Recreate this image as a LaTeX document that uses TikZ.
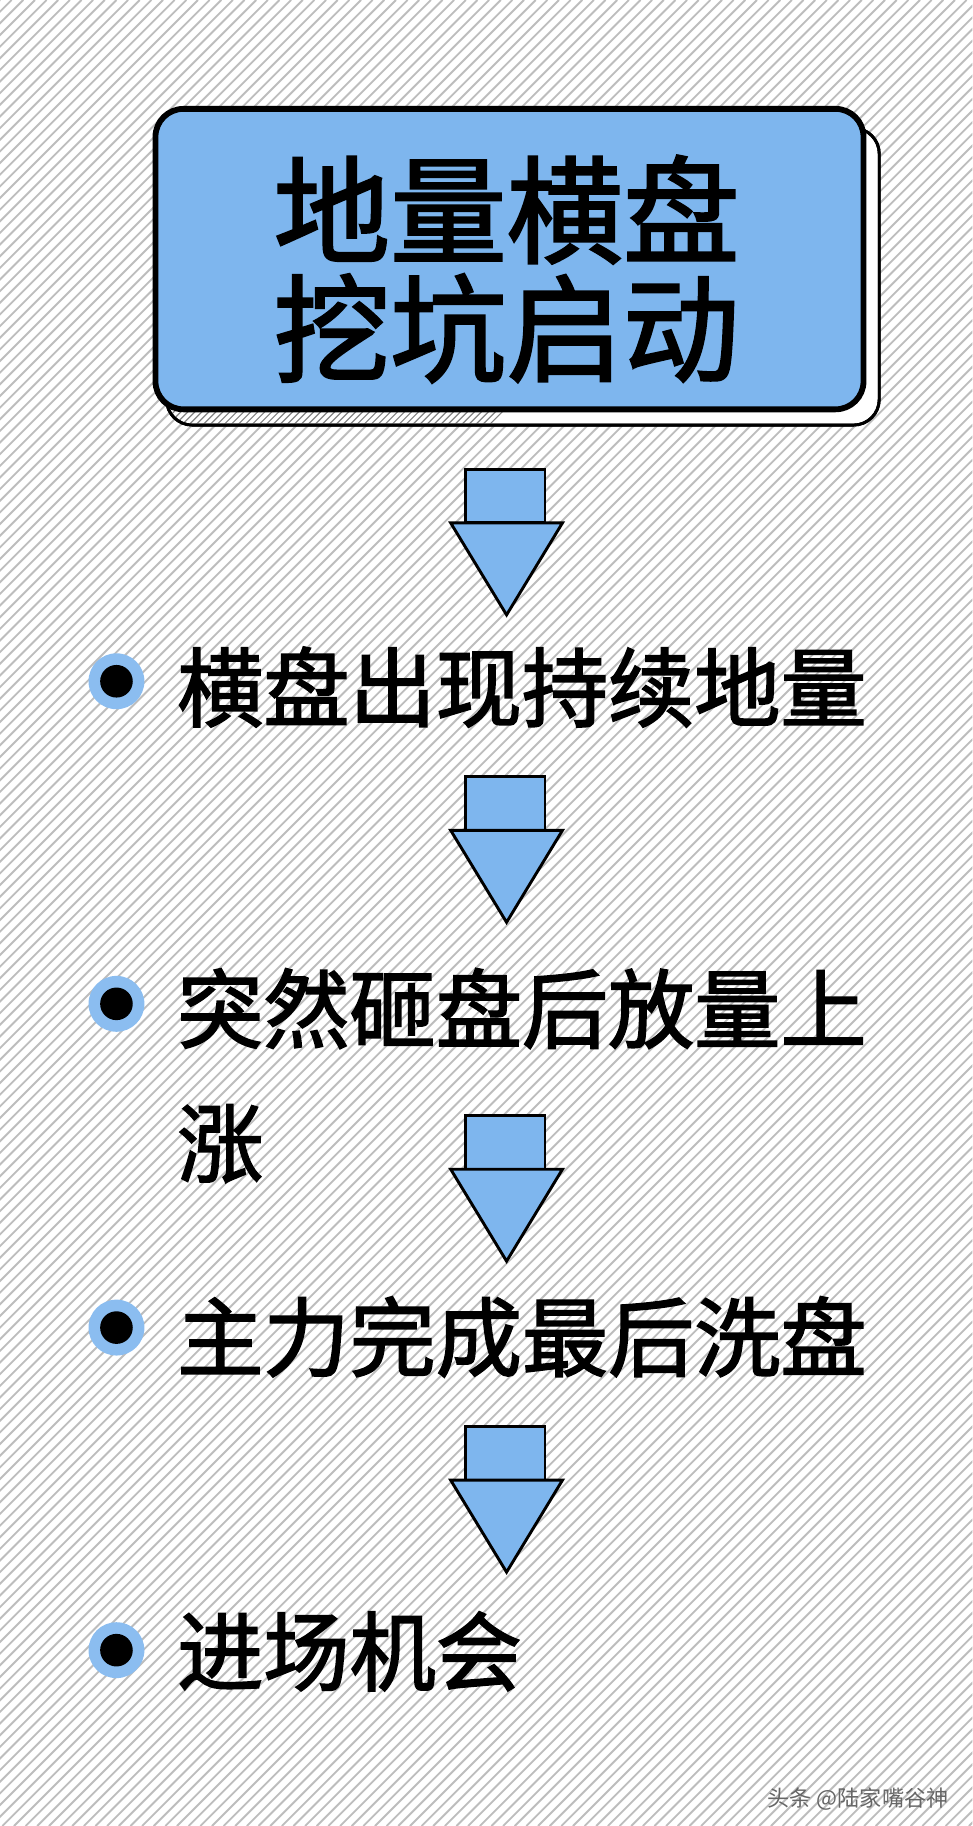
\documentclass[tikz,border=0pt]{standalone}
\usepackage{fontspec}
\newfontfamily\cjk[FakeBold=2]{Noto Sans CJK SC}
\newfontfamily\cjklight{Noto Sans CJK SC}
\definecolor{fillblue}{HTML}{7EB6EE}
\definecolor{stripe}{HTML}{BDBDBD}
\begin{document}
\begin{tikzpicture}[x=1pt,y=-1pt,
  arrowshape/.style={draw=black,line width=2.5pt,fill=fillblue,line join=miter},
  item/.style={anchor=west,inner sep=0pt,font=\cjk\fontsize{74}{90}\selectfont},
  outerdot/.style={fill=fillblue!90,draw=none},
]
\useasboundingbox (0,0) rectangle (835,1568);
\fill[white] (0,0) rectangle (835,1568);
\begin{scope}
\clip (0,0) rectangle (835,1568);
\foreach \i in {0,...,250}{
  \draw[stripe,line width=1.6pt] (\i*10-1568,1568) -- (\i*10,0);
}
\end{scope}
% shadow box
\draw[black,line width=2.5pt,fill=white,rounded corners=22] (143,110) rectangle (755,365);
\begin{scope}
\clip[rounded corners=22] (143,110) rectangle (755,365);
\foreach \i in {0,...,120}{
  \draw[stripe!70!black,line width=1pt] (\i*6-300,365) -- (\i*6-45,110);
}
\end{scope}
\draw[black,line width=2.5pt,rounded corners=22] (143,110) rectangle (755,365);
\node[draw=black,line width=5pt,fill=fillblue,rounded corners=24,minimum width=608pt,minimum height=258pt,anchor=north west] (title) at (131,91) {};
\node[font=\cjk\fontsize{100}{100}\selectfont,align=center] (t1) at (435,180) {地量横盘};
\node[font=\cjk\fontsize{100}{100}\selectfont,align=center] (t2) at (435,282) {挖坑启动};
% arrows
\foreach \y/\n in {403/a1,667/a2,958/a3,1225/a4}{
  \draw[arrowshape] (400,\y) rectangle (468,\y+46);
  \draw[arrowshape] (387,\y+46) -- (483,\y+46) -- (435,\y+125) -- cycle;
  \coordinate (\n) at (435,\y);
}
% bullets
\foreach \y/\n in {585/b1,862/b2,1140/b3,1417/b4}{
  \fill[outerdot] (100,\y) circle (24);
  \fill[black] (100,\y) circle (14);
  \coordinate (\n) at (100,\y);
}
\node[item] (s1) at (152,590) {横盘出现持续地量};
\node[item] (s2) at (152,866) {突然砸盘后放量上};
\node[item] (s2b) at (152,982) {涨};
\node[item] (s3) at (152,1148) {主力完成最后洗盘};
\node[item] (s4) at (152,1418) {进场机会};
\node[anchor=east,text=black!60,font=\cjklight\fontsize{19}{20}\selectfont] (wm) at (818,1545) {头条 @陆家嘴谷神};
\end{tikzpicture}
\end{document}
